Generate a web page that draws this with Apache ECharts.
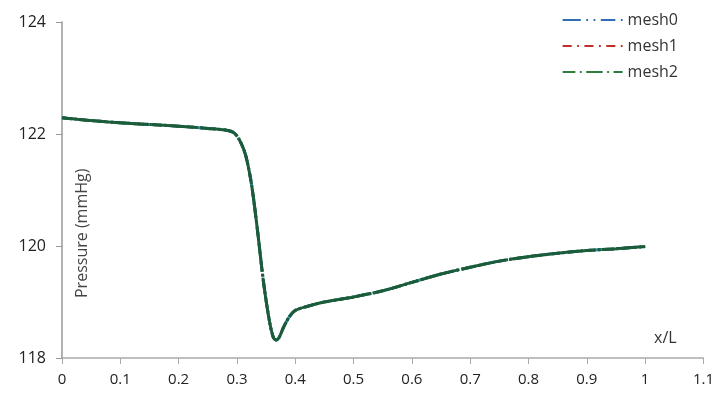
<!DOCTYPE html>
<html><head><meta charset="utf-8">
<script src="https://cdn.jsdelivr.net/npm/echarts@6/dist/echarts.min.js"></script>
<style>html,body{margin:0;padding:0;background:#fff}#c{width:717px;height:394px}</style>
</head><body><div id="c"></div>
<script>
const xValues = [0, 0.02, 0.05, 0.1, 0.15, 0.2, 0.25, 0.28, 0.295, 0.305, 0.315, 0.325, 0.335, 0.345, 0.355, 0.362, 0.367, 0.372, 0.38, 0.39, 0.4, 0.42, 0.45, 0.5, 0.55, 0.6, 0.65, 0.7, 0.75, 0.8, 0.85, 0.9, 0.95, 1.0];
const mesh0 = [122.29, 122.27, 122.24, 122.2, 122.17, 122.14, 122.1, 122.07, 122.02, 121.88, 121.62, 121.1, 120.3, 119.4, 118.7, 118.38, 118.32, 118.36, 118.55, 118.74, 118.85, 118.92, 119.0, 119.09, 119.2, 119.35, 119.5, 119.62, 119.73, 119.81, 119.87, 119.92, 119.95, 119.99];
const mesh1 = [122.29, 122.27, 122.24, 122.2, 122.17, 122.14, 122.1, 122.07, 122.02, 121.88, 121.62, 121.1, 120.3, 119.4, 118.7, 118.38, 118.32, 118.36, 118.55, 118.74, 118.85, 118.92, 119.0, 119.09, 119.2, 119.35, 119.5, 119.62, 119.73, 119.81, 119.87, 119.92, 119.95, 119.99];
const mesh2 = [122.29, 122.27, 122.24, 122.2, 122.17, 122.14, 122.1, 122.07, 122.02, 121.88, 121.62, 121.1, 120.3, 119.4, 118.7, 118.38, 118.32, 118.36, 118.55, 118.74, 118.85, 118.92, 119.0, 119.09, 119.2, 119.35, 119.5, 119.62, 119.73, 119.81, 119.87, 119.92, 119.95, 119.99];
const seriesNames = ['mesh0', 'mesh1', 'mesh2'];
const xTicks = ['0','0.1','0.2','0.3','0.4','0.5','0.6','0.7','0.8','0.9','1','1.1'];
const yTicks = ['118','120','122','124'];

const pair = arr => xValues.map((x, i) => [x, arr[i]]);
const font = 'Open Sans, Liberation Sans, sans-serif';
const chart = echarts.init(document.getElementById('c'), null, {renderer: 'canvas'});
chart.setOption({
  animation: false,
  grid: {left: 62, right: 13, top: 22, bottom: 36},
  legend: {
    orient: 'vertical', right: 34, top: 7, itemGap: 10, itemWidth: 60, itemHeight: 16,
    textStyle: {fontFamily: font, fontSize: 16, color: '#333'},
    data: [
      {name: seriesNames[0], icon: 'path://M0,7H20V9H0Z M26,7H28V9H26Z M34,7H36V9H34Z M42,7H58V9H42Z M64,7H66V9H64Z', itemStyle: {color: '#2f6db5'}},
      {name: seriesNames[1], icon: 'path://M0,7H10V9H0Z M16,7H18V9H16Z M24,7H34V9H24Z M40,7H42V9H40Z M48,7H58V9H48Z M64,7H66V9H64Z', itemStyle: {color: '#c0302a'}},
      {name: seriesNames[2], icon: 'path://M0,7H14V9H0Z M19,7H21V9H19Z M26,7H44V9H26Z M49,7H51V9H49Z M56,7H66V9H56Z', itemStyle: {color: '#2e7d3c'}}
    ]
  },
  xAxis: {
    type: 'value', min: 0, max: 1.1, interval: 0.1,
    axisLine: {lineStyle: {color: '#aaaaaa', width: 1.5}},
    axisTick: {show: true, length: 6, lineStyle: {color: '#aaaaaa'}},
    splitLine: {show: false},
    axisLabel: {fontFamily: font, fontSize: 15, color: '#222', margin: 14,
      formatter: v => xTicks[Math.round(v * 10)]}
  },
  yAxis: {
    type: 'value', min: 118, max: 124, interval: 2,
    axisLine: {show: true, lineStyle: {color: '#999999', width: 1.5}},
    axisTick: {show: true, length: 6, lineStyle: {color: '#999999'}},
    splitLine: {show: false},
    axisLabel: {fontFamily: font, fontSize: 16, color: '#222', margin: 16,
      formatter: v => yTicks[Math.round((v - 118) / 2)]}
  },
  graphic: [
    {type: 'text', x: 74, y: 298, rotation: Math.PI / 2, style: {text: 'Pressure (mmHg)', fontFamily: font, fontSize: 16, fill: '#444'}},
    {type: 'text', left: 654, top: 330, style: {text: 'x/L', fontFamily: font, fontSize: 16, fill: '#333'}}
  ],
  series: [
    {name: seriesNames[0], type: 'line', data: pair(mesh0), symbol: 'none', smooth: 0.3,
      lineStyle: {color: '#2f8fa5', width: 3, type: [14, 3, 2, 3, 2, 3]}, itemStyle: {color: '#2f6db5'}},
    {name: seriesNames[1], type: 'line', data: pair(mesh1), symbol: 'none', smooth: 0.3,
      lineStyle: {color: '#1d5a3a', width: 3, type: [10, 3, 2, 3]}, itemStyle: {color: '#c0302a'}},
    {name: seriesNames[2], type: 'line', data: pair(mesh2), symbol: 'none', smooth: 0.3,
      lineStyle: {color: '#1b5c3b', width: 3, type: [40, 2, 2, 2]}, itemStyle: {color: '#2e7d3c'}}
  ]
});
</script></body></html>
